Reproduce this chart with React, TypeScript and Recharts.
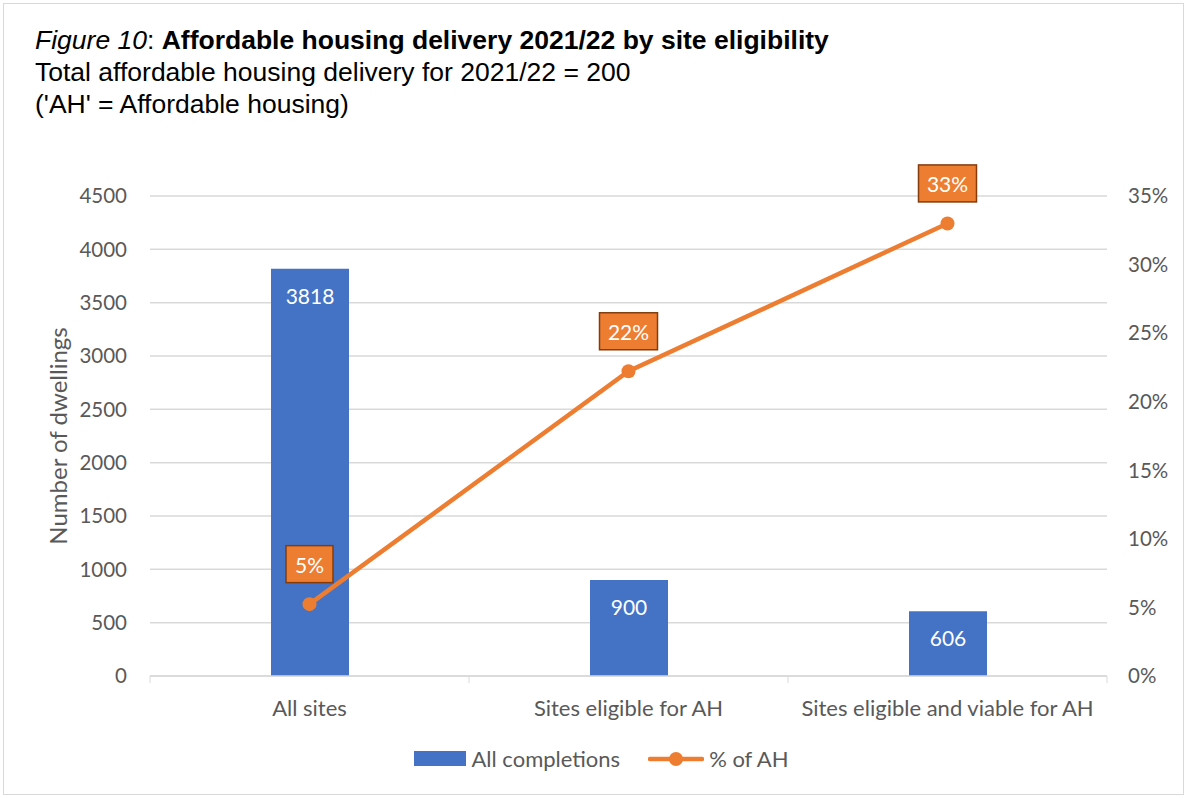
import {
  ComposedChart,
  Bar,
  Line,
  XAxis,
  YAxis,
  CartesianGrid,
  LabelList,
} from 'recharts'

const categories = ['All sites', 'Sites eligible for AH', 'Sites eligible and viable for AH']
const completions = [3818, 900, 606]
const ahShare = [5.24, 22.22, 33.0]
const leftTicks = [0, 500, 1000, 1500, 2000, 2500, 3000, 3500, 4000, 4500]
const rightTicks = [0, 5, 10, 15, 20, 25, 30, 35]

const W = 1187
const H = 798
const PLOT_LEFT = 150
const PLOT_RIGHT = 1107
const BAND = (PLOT_RIGHT - PLOT_LEFT) / categories.length

const BLUE = '#4472C4'
const ORANGE = '#ED7D31'
const GREY_TEXT = '#595959'
const GRID = '#d9d9d9'
const FONT = 'Lato, "Noto Sans", sans-serif'
const TITLE_FONT = '"Liberation Sans", Arial, sans-serif'

const data = categories.map((name, i) => ({
  name,
  completions: completions[i],
  share: ahShare[i],
}))

const CategoryTick = ({ x, y, payload, index }: any) => {
  const left = x - BAND / 2
  const right = x + BAND / 2
  return (
    <g>
      <line x1={left} y1={y} x2={left} y2={y + 7} stroke={GRID} strokeWidth={1} />
      {index === categories.length - 1 && (
        <line x1={right} y1={y} x2={right} y2={y + 7} stroke={GRID} strokeWidth={1} />
      )}
      <text x={x} y={y + 31} textAnchor="middle" dominantBaseline="central" fill={GREY_TEXT} fontSize={22} fontFamily={FONT}>
        {payload.value}
      </text>
    </g>
  )
}

const YTitle = ({ viewBox }: any) => {
  const cx = viewBox.x + 21
  const cy = viewBox.y + viewBox.height / 2
  return (
    <text
      x={cx}
      y={cy}
      transform={`rotate(-90, ${cx}, ${cy})`}
      textAnchor="middle"
      dominantBaseline="central"
      fill={GREY_TEXT}
      fontSize={24}
      fontFamily={FONT}
    >
      Number of dwellings
    </text>
  )
}

const ShareLabel = ({ x, y, value }: any) => {
  const txt = `${Math.round(value)}%`
  const w = txt.length === 2 ? 47 : 58
  const h = 37
  const cy = y - 40
  return (
    <g>
      <rect x={x - w / 2} y={cy - h / 2} width={w} height={h} fill={ORANGE} stroke="#843C0C" strokeWidth={1.5} />
      <text x={x} y={cy} textAnchor="middle" dominantBaseline="central" fill="#fff" fontSize={21} fontFamily={FONT}>
        {txt}
      </text>
    </g>
  )
}

export default function App() {
  return (
    <div style={{ position: 'absolute', left: 0, top: 0, width: W, height: H, background: '#fff' }}>
      <div
        style={{
          position: 'absolute',
          left: 3,
          top: 3,
          width: W - 8,
          height: H - 8,
          border: `1px solid ${GRID}`,
        }}
      />
      <div
        style={{
          position: 'absolute',
          left: 35,
          top: 24,
          fontFamily: TITLE_FONT,
          fontSize: 26.5,
          lineHeight: '32px',
          color: '#000',
        }}
      >
        <div>
          <i>Figure 10</i>: <b>Affordable housing delivery 2021/22 by site eligibility</b>
        </div>
        <div>Total affordable housing delivery for 2021/22 = 200</div>
        <div>('AH' = Affordable housing)</div>
      </div>

      <div style={{ position: 'absolute', left: 0, top: 0 }}>
        <ComposedChart width={W} height={H} data={data} margin={{ top: 196, right: 10, bottom: 82, left: 36 }}>
          <CartesianGrid yAxisId="left" vertical={false} stroke={GRID} strokeWidth={1.5} />
          <XAxis
            dataKey="name"
            height={40}
            axisLine={{ stroke: GRID, strokeWidth: 1.5 }}
            tickLine={false}
            tickSize={0}
            tickMargin={0}
            tick={<CategoryTick />}
            interval={0}
          />
          <YAxis
            yAxisId="left"
            width={114}
            domain={[0, 4500]}
            ticks={leftTicks}
            axisLine={false}
            tickLine={false}
            tickSize={0}
            tickMargin={23}
            tick={{ fill: GREY_TEXT, fontSize: 20.5, fontFamily: FONT }}
            label={<YTitle />}
          />
          <YAxis
            yAxisId="right"
            orientation="right"
            width={70}
            domain={[0, 35]}
            ticks={rightTicks}
            tickFormatter={(v: number) => `${v}%`}
            axisLine={false}
            tickLine={false}
            tickSize={0}
            tickMargin={21}
            tick={{ fill: GREY_TEXT, fontSize: 20.5, fontFamily: FONT, textAnchor: 'start' }}
          />
          <Bar yAxisId="left" dataKey="completions" fill={BLUE} barSize={78} isAnimationActive={false}>
            <LabelList dataKey="completions" position="insideTop" offset={20} fill="#fff" fontSize={21} fontFamily={FONT} />
          </Bar>
          <Line
            yAxisId="right"
            dataKey="share"
            stroke={ORANGE}
            strokeWidth={4.5}
            dot={{ r: 7, fill: ORANGE, stroke: ORANGE, strokeWidth: 0 }}
            isAnimationActive={false}
          >
            <LabelList dataKey="share" content={<ShareLabel />} />
          </Line>
        </ComposedChart>
      </div>

      <div
        style={{
          position: 'absolute',
          top: 745,
          left: 8,
          width: W,
          display: 'flex',
          justifyContent: 'center',
          alignItems: 'center',
          fontFamily: FONT,
          fontSize: 22,
          color: GREY_TEXT,
          gap: 28,
        }}
      >
        <div style={{ display: 'flex', alignItems: 'center', gap: 5 }}>
          <span style={{ display: 'inline-block', width: 52, height: 15, background: BLUE }} />
          <span>All completions</span>
        </div>
        <div style={{ display: 'flex', alignItems: 'center', gap: 5 }}>
          <svg width={56} height={16}>
            <line x1={2} y1={8} x2={54} y2={8} stroke={ORANGE} strokeWidth={4.5} strokeLinecap="round" />
            <circle cx={28} cy={8} r={7} fill={ORANGE} />
          </svg>
          <span>% of AH</span>
        </div>
      </div>
    </div>
  )
}
